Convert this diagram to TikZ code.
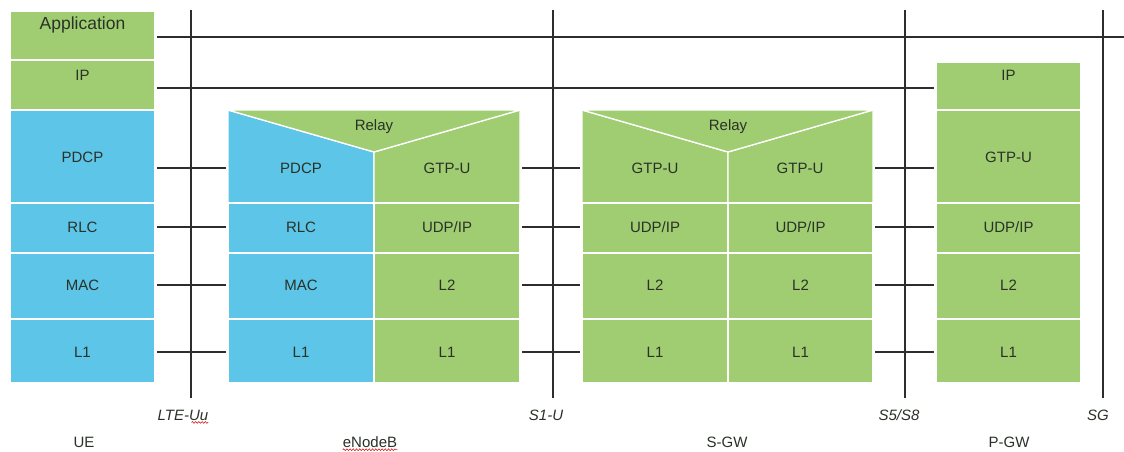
\documentclass[tikz,border=0pt]{standalone}
\usepackage{fontspec}
\setmainfont{Liberation Sans}
\usetikzlibrary{decorations.pathmorphing}
\definecolor{lteblue}{RGB}{92,197,232}
\definecolor{ltegreen}{RGB}{160,205,114}
\definecolor{ink}{RGB}{42,50,40}
\definecolor{wirecol}{RGB}{45,45,45}

% one protocol layer: name, x1, x2, y1, y2, fill, label y, text
\newcommand\layer[8]{%
  \path[cell, fill=#6] (#2,#4) rectangle (#3,#5);
  \node[lbl] (#1) at ({(#2+#3)/2},#7) {#8};}

\begin{document}
\begin{tikzpicture}[x=1pt, y=-1pt,
  cell/.style={draw=white, line width=1.3pt},
  lbl/.style={font=\fontsize{15}{15}\selectfont, text=ink, inner sep=0pt},
  iface/.style={font=\fontsize{15}{15}\selectfont\itshape, text=ink, inner sep=0pt},
  wire/.style={draw=wirecol, line width=1.3pt},
  stackbox/.style={inner sep=0pt, outer sep=0pt, anchor=north west},
  spell/.style={draw=red!85!black, line width=0.5pt, decorate,
    decoration={snake, amplitude=0.9pt, segment length=3.2pt}}]

\useasboundingbox (0,0) rectangle (1124,452);
\fill[white] (0,0) rectangle (1124,452);

% outlines of the four protocol stacks
\node[stackbox, minimum width=145pt, minimum height=372pt] (ue)  at (10,11)  {};
\node[stackbox, minimum width=292pt, minimum height=273pt] (enb) at (228,110) {};
\node[stackbox, minimum width=291pt, minimum height=273pt] (sgw) at (582,110) {};
\node[stackbox, minimum width=145pt, minimum height=321pt] (pgw) at (936,62) {};

% ---------------- UE ----------------
\path[cell, fill=ltegreen] (10,11) rectangle (155,60);
\node[lbl, font=\fontsize{17.5}{17.5}\selectfont] (ue-app) at (82.5,25) {Application};
\layer{ue-ip}{10}{155}{60}{110}{ltegreen}{75}{IP}
\layer{ue-pdcp}{10}{155}{110}{203}{lteblue}{157}{PDCP}
\layer{ue-rlc}{10}{155}{203}{253}{lteblue}{227}{RLC}
\layer{ue-mac}{10}{155}{253}{319}{lteblue}{285}{MAC}
\layer{ue-l1}{10}{155}{319}{383}{lteblue}{352}{L1}

% ---------------- eNodeB ----------------
\path[cell, fill=lteblue]  (228,110) -- (374,152) -- (374,203) -- (228,203) -- cycle;
\path[cell, fill=ltegreen] (374,152) -- (520,110) -- (520,203) -- (374,203) -- cycle;
\path[cell, fill=ltegreen] (228,110) -- (520,110) -- (374,152) -- cycle;
\node[lbl] (enb-relay) at (374,127) {Relay};
\node[lbl] (enb-pdcp) at (301,168) {PDCP};
\node[lbl] (enb-gtp)  at (447,168) {GTP-U};
\layer{enb-rlc}{228}{374}{203}{253}{lteblue}{227}{RLC}
\layer{enb-mac}{228}{374}{253}{319}{lteblue}{285}{MAC}
\layer{enb-l1a}{228}{374}{319}{383}{lteblue}{352}{L1}
\layer{enb-udp}{374}{520}{203}{253}{ltegreen}{227}{UDP/IP}
\layer{enb-l2}{374}{520}{253}{319}{ltegreen}{285}{L2}
\layer{enb-l1b}{374}{520}{319}{383}{ltegreen}{352}{L1}

% ---------------- S-GW ----------------
\path[cell, fill=ltegreen] (582,110) -- (728,152) -- (728,203) -- (582,203) -- cycle;
\path[cell, fill=ltegreen] (728,152) -- (873,110) -- (873,203) -- (728,203) -- cycle;
\path[cell, fill=ltegreen] (582,110) -- (873,110) -- (728,152) -- cycle;
\node[lbl] (sgw-relay) at (728,127) {Relay};
\node[lbl] (sgw-gtpa) at (655,168) {GTP-U};
\node[lbl] (sgw-gtpb) at (800,168) {GTP-U};
\layer{sgw-udpa}{582}{728}{203}{253}{ltegreen}{227}{UDP/IP}
\layer{sgw-l2a}{582}{728}{253}{319}{ltegreen}{285}{L2}
\layer{sgw-l1a}{582}{728}{319}{383}{ltegreen}{352}{L1}
\layer{sgw-udpb}{728}{873}{203}{253}{ltegreen}{227}{UDP/IP}
\layer{sgw-l2b}{728}{873}{253}{319}{ltegreen}{285}{L2}
\layer{sgw-l1b}{728}{873}{319}{383}{ltegreen}{352}{L1}

% ---------------- P-GW ----------------
\layer{pgw-ip}{936}{1081}{62}{110}{ltegreen}{75}{IP}
\layer{pgw-gtp}{936}{1081}{110}{203}{ltegreen}{157}{GTP-U}
\layer{pgw-udp}{936}{1081}{203}{253}{ltegreen}{227}{UDP/IP}
\layer{pgw-l2}{936}{1081}{253}{319}{ltegreen}{285}{L2}
\layer{pgw-l1}{936}{1081}{319}{383}{ltegreen}{352}{L1}

% ---------------- end-to-end application and IP links ----------------
\coordinate (app-end) at (1124,37);
\draw[wire] ([xshift=2pt]ue.east |- app-end) -- (app-end);
\coordinate (ip-link) at (0,88);
\draw[wire] ([xshift=2pt]ue.east |- ip-link) -- ([xshift=-2pt]pgw.west |- ip-link);

% ---------------- peer links between adjacent stacks ----------------
\coordinate (pdcp-link) at (0,168);
\foreach \t in {pdcp-link, ue-rlc, ue-mac, ue-l1}
  \draw[wire] ([xshift=2pt]ue.east |- \t) -- ([xshift=-2pt]enb.west |- \t);
\foreach \t in {enb-gtp, enb-udp, enb-l2, enb-l1b}
  \draw[wire] ([xshift=2pt]enb.east |- \t) -- ([xshift=-2pt]sgw.west |- \t);
\foreach \t in {sgw-gtpb, sgw-udpb, sgw-l2b, sgw-l1b}
  \draw[wire] ([xshift=2pt]sgw.east |- \t) -- ([xshift=-2pt]pgw.west |- \t);

% ---------------- reference points ----------------
\foreach \n/\x in {uu/191, s1/553, s5/905, sg/1103} {
  \coordinate (\n-top) at (\x,10);
  \coordinate (\n-bot) at (\x,398);
  \draw[wire] (\n-top) -- (\n-bot);
}
\node[iface] (uu) at (183,415) {LTE-Uu};
\node[iface] (s1) at (546,415) {S1-U};
\node[iface] (s5) at (899,415) {S5/S8};
\node[iface] (sg) at (1098,415) {SG};

% ---------------- node names ----------------
\node[lbl] (ue-name)  at (84,442)   {UE};
\node[lbl] (enb-name) at (370,442)  {eNodeB};
\node[lbl] (sgw-name) at (727,442)  {S-GW};
\node[lbl] (pgw-name) at (1009,442) {P-GW};

% spell-checker underlines
\draw[spell] ([xshift=-17pt,yshift=-2pt]uu.south east) -- ([yshift=-2pt]uu.south east);
\draw[spell] ([yshift=-2pt]enb-name.south west) -- ([yshift=-2pt]enb-name.south east);
\end{tikzpicture}
\end{document}
